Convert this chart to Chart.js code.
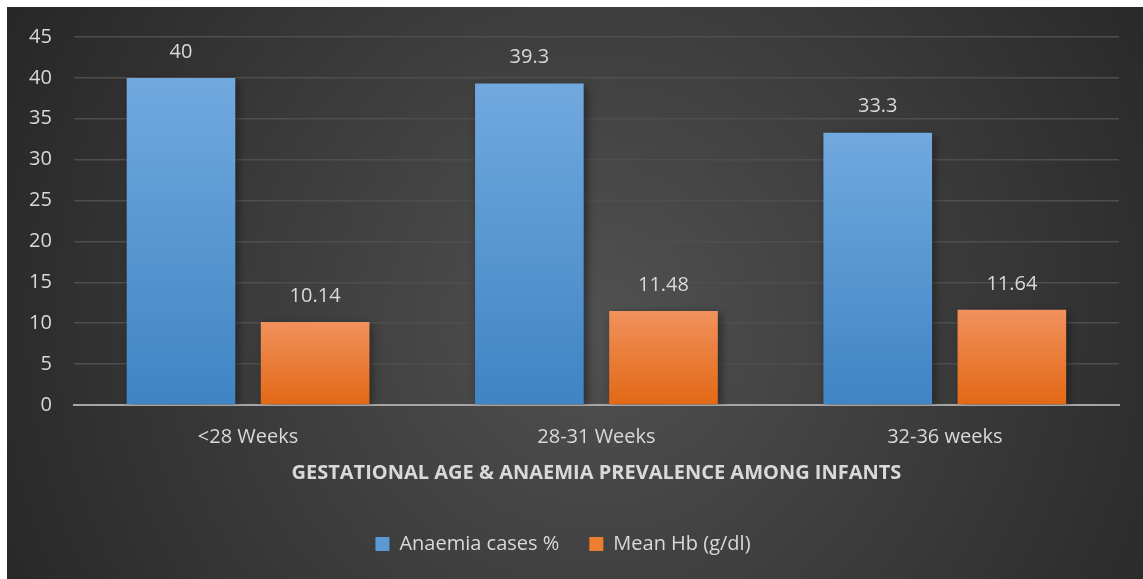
<!DOCTYPE html>
<html>
<head>
<meta charset="utf-8">
<script src="https://cdn.jsdelivr.net/npm/chart.js@4/dist/chart.umd.min.js"></script>
<style>
  html, body { margin: 0; padding: 0; background: #fff; }
  #wrap { position: absolute; left: 7px; top: 7px; width: 1136px; height: 572px; }
</style>
</head>
<body>
<div id="wrap"><canvas id="bar"></canvas></div>
<script>
// data
const categories = ['<28 Weeks', '28-31 Weeks', '32-36 weeks'];
const anaemiaCases = [40, 39.3, 33.3];
const meanHb = [10.14, 11.48, 11.64];
const anaemiaLabels = ['40', '39.3', '33.3'];
const meanHbLabels = ['10.14', '11.48', '11.64'];

const FONT = "'Open Sans', 'DejaVu Sans', sans-serif";
const TEXT = '#d9d9d9';

// bar fill, lighter at the top of each bar
function barGradient(ctx, top, bottom) {
  const chart = ctx.chart;
  const y = chart.scales.y;
  if (!y || ctx.parsed === undefined) return bottom;
  const yTop = y.getPixelForValue(ctx.parsed.y);
  const yBot = y.getPixelForValue(0);
  const g = chart.ctx.createLinearGradient(0, yTop, 0, yBot);
  g.addColorStop(0, top);
  g.addColorStop(1, bottom);
  return g;
}

const bgPlugin = {
  id: 'bg',
  beforeDraw(chart) {
    const c = chart.ctx;
    const w = chart.width, h = chart.height;
    const g = c.createRadialGradient(w * 0.52, h * 0.55, 0, w * 0.52, h * 0.55, w * 0.6);
    g.addColorStop(0, '#515151');
    g.addColorStop(1, '#262626');
    c.save();
    c.fillStyle = g;
    c.fillRect(0, 0, w, h);
    c.restore();
  }
};

const shadowPlugin = {
  id: 'shadow',
  beforeDatasetsDraw(chart) {
    const c = chart.ctx;
    c.save();
    c.shadowColor = 'rgba(0,0,0,0.45)';
    c.shadowBlur = 9;
    c.shadowOffsetX = 3;
    c.shadowOffsetY = 2;
  },
  afterDatasetsDraw(chart) {
    chart.ctx.restore();
  }
};

const labelPlugin = {
  id: 'valueLabels',
  afterDatasetsDraw(chart) {
    const c = chart.ctx;
    const texts = [anaemiaLabels, meanHbLabels];
    c.save();
    c.font = '20px ' + FONT;
    c.fillStyle = TEXT;
    c.textAlign = 'center';
    c.textBaseline = 'middle';
    chart.data.datasets.forEach((ds, i) => {
      chart.getDatasetMeta(i).data.forEach((bar, j) => {
        c.fillText(texts[i][j], bar.x, bar.y - 26);
      });
    });
    c.restore();
  }
};

const barChart = new Chart(document.getElementById('bar'), {
  type: 'bar',
  data: {
    labels: categories,
    datasets: [{
      label: 'Anaemia cases %',
      data: anaemiaCases,
      backgroundColor: ctx => barGradient(ctx, '#71a9de', '#3f84c4'),
      barPercentage: 0.81,
      categoryPercentage: 0.77
    }, {
      label: 'Mean Hb (g/dl)',
      data: meanHb,
      backgroundColor: ctx => barGradient(ctx, '#f1915c', '#e26815'),
      barPercentage: 0.81,
      categoryPercentage: 0.77
    }]
  },
  options: {
    responsive: true,
    maintainAspectRatio: false,
    animation: false,
    layout: { padding: { left: 0, right: 24, top: 0, bottom: 15 } },
    plugins: {
      tooltip: { enabled: false },
      legend: {
        position: 'bottom',
        labels: {
          color: TEXT,
          font: { family: FONT, size: 20 },
          boxWidth: 14,
          boxHeight: 14,
          padding: 30,
          generateLabels(chart) {
            return [
              { text: 'Anaemia cases %', fillStyle: '#5b9bd5', strokeStyle: '#5b9bd5', lineWidth: 0, fontColor: TEXT, datasetIndex: 0 },
              { text: 'Mean Hb (g/dl)', fillStyle: '#ed7d31', strokeStyle: '#ed7d31', lineWidth: 0, fontColor: TEXT, datasetIndex: 1 }
            ];
          }
        }
      }
    },
    scales: {
      x: {
        grid: { display: false, drawTicks: false },
        border: { color: '#a6a6a6', width: 2 },
        ticks: { color: TEXT, font: { family: FONT, size: 20 }, padding: 20 },
        title: {
          display: true,
          text: 'GESTATIONAL AGE & ANAEMIA PREVALENCE AMONG INFANTS',
          color: TEXT,
          font: { family: FONT, size: 20, weight: 'bold' },
          padding: { top: -8, bottom: 19 }
        }
      },
      y: {
        min: 0,
        max: 45,
        ticks: { stepSize: 5, color: TEXT, font: { family: FONT, size: 20 }, padding: 22 },
        grid: { color: '#4e4e4e', lineWidth: 1.5, drawTicks: false },
        border: { display: false },
        afterFit(scale) {
          // tick padding also pads the top; keep the plot top where the original has it
          scale.paddingTop = 30;
        }
      }
    }
  },
  plugins: [bgPlugin, shadowPlugin, labelPlugin]
});
</script>
</body>
</html>
